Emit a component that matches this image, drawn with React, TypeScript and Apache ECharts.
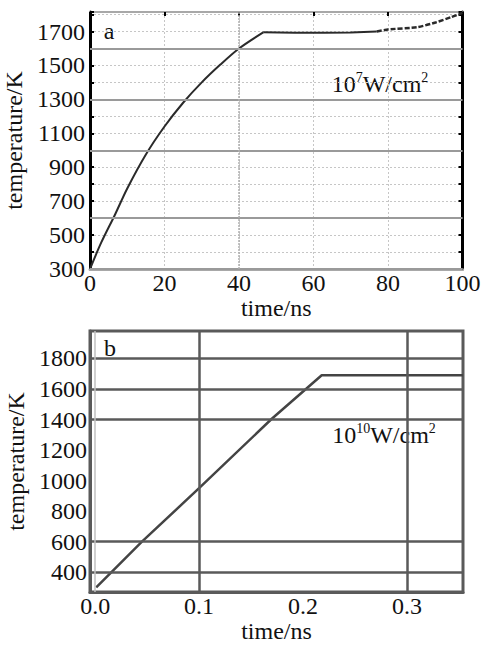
import React, { useEffect, useRef } from 'react';
import * as echarts from 'echarts';

// ---- Panel a (10^7 W/cm^2) ----
const riseTimeA = [0, 3, 6.7, 10, 15, 20, 25, 30, 35, 40, 46.5];
const riseTempA = [300, 455, 620, 775, 975, 1140, 1280, 1400, 1505, 1600, 1695];
const flatTimeA = [46.5, 55, 63, 70, 77];
const flatTempA = [1695, 1693, 1692, 1694, 1700];
const tailTimeA = [77, 80, 88, 93, 97, 100];
const tailTempA = [1700, 1712, 1726, 1755, 1785, 1810];
const xTicksA = [0, 20, 40, 60, 80, 100];
const yTicksA = [300, 500, 700, 900, 1100, 1300, 1500, 1700];
const darkGridYA = [1600, 1300, 1000, 600, 300];

// ---- Panel b (10^10 W/cm^2) ----
const timeB = [0.001, 0.045, 0.1, 0.17, 0.218, 0.354];
const tempB = [300, 600, 950, 1405, 1690, 1690];
const xTicksB = [0.0, 0.1, 0.2, 0.3];
const yTicksB = [400, 600, 800, 1000, 1200, 1400, 1600, 1800];
const gridYB = [1800, 1600, 1400, 600, 400];
const gridXB = [0.1, 0.3];

const FONT = 'Liberation Serif, DejaVu Serif, serif';
const TXT = '#111';
const FS = 24;

const pairs = (xs: number[], ys: number[]) => xs.map((x, i) => [x, ys[i]]);
const near = (arr: number[], v: number) => arr.some((a) => Math.abs(a - v) < 1e-6);

export default function App() {
  const ref = useRef<HTMLDivElement>(null);
  useEffect(() => {
    if (!ref.current) return;
    const chart = echarts.init(ref.current, undefined, { renderer: 'svg' });
    const labelStyle = { fontFamily: FONT, fontSize: FS, color: TXT };
    const nameStyle = { fontFamily: FONT, fontSize: FS, color: TXT };
    const lightSplit = { show: true, lineStyle: { color: '#c6c6c6', type: [2, 2] as any, width: 1 } };
    const option: any = {
      animation: false,
      backgroundColor: '#fff',
      textStyle: { fontFamily: FONT },
      grid: [
        { left: 90, right: 20.5, top: 12, height: 257, show: true, borderColor: '#a8a8a8', borderWidth: 2, outerBoundsMode: 'none', containLabel: false },
        { left: 90, right: 20, top: 331, height: 261, show: true, borderColor: '#5a5a5a', borderWidth: 3, outerBoundsMode: 'none', containLabel: false },
      ],
      xAxis: [
        {
          gridIndex: 0, type: 'value', min: 0, max: 100, interval: 20,
          axisLine: { show: true, onZero: false, lineStyle: { color: '#a8a8a8', width: 3 } },
          axisTick: { show: false },
          axisLabel: { ...labelStyle, margin: 2, formatter: (v: number) => (near(xTicksA, v) ? String(v) : '') },
          splitLine: lightSplit,
          name: 'time/ns', nameLocation: 'middle', nameGap: 27, nameTextStyle: nameStyle,
        },
        {
          gridIndex: 0, type: 'value', position: 'top', min: 0, max: 100, interval: 20,
          axisLine: { show: true, onZero: false, lineStyle: { color: '#a8a8a8', width: 2 } },
          axisTick: { show: true, inside: true, length: 4, lineStyle: { color: '#000', width: 2 } },
          axisLabel: { show: false },
          splitLine: { show: false },
        },
        {
          gridIndex: 1, type: 'value', min: -0.005, max: 0.354, minInterval: 0.1, maxInterval: 0.1,
          axisLine: { show: true, onZero: false, lineStyle: { color: '#5a5a5a', width: 3 } },
          axisTick: { show: false },
          axisLabel: { ...labelStyle, margin: 2, formatter: (v: number) => (near(xTicksB, v) ? v.toFixed(1) : '') },
          splitLine: { show: false },
          name: 'time/ns', nameLocation: 'middle', nameGap: 27, nameTextStyle: nameStyle,
        },
      ],
      yAxis: [
        {
          gridIndex: 0, type: 'value', min: 300, max: 1815, interval: 100,
          axisLine: { show: true, onZero: false, lineStyle: { color: '#000', width: 3 } },
          axisTick: { show: true, inside: true, length: 4, lineStyle: { color: '#000', width: 2 } },
          axisLabel: { ...labelStyle, margin: 5, formatter: (v: number) => (near(yTicksA, v) ? String(v) : '') },
          splitLine: lightSplit,
          name: 'temperature/K', nameLocation: 'middle', nameGap: 58, nameRotate: 90, nameTextStyle: nameStyle,
        },
        {
          gridIndex: 0, type: 'value', position: 'right', min: 300, max: 1815, interval: 100,
          axisLine: { show: true, onZero: false, lineStyle: { color: '#000', width: 3 } },
          axisTick: { show: true, inside: true, length: 4, lineStyle: { color: '#000', width: 2 } },
          axisLabel: { show: false },
          splitLine: { show: false },
        },
        {
          gridIndex: 1, type: 'value', min: 270, max: 1980, minInterval: 200, maxInterval: 200,
          axisLine: { show: true, onZero: false, lineStyle: { color: '#5a5a5a', width: 3 } },
          axisTick: { show: false },
          axisLabel: { ...labelStyle, margin: 3, formatter: (v: number) => (near(yTicksB, v) ? String(v) : '') },
          splitLine: { show: false },
          name: 'temperature/K', nameLocation: 'middle', nameGap: 58, nameRotate: 90, nameTextStyle: nameStyle,
        },
      ],
      series: [
        {
          type: 'line', xAxisIndex: 0, yAxisIndex: 0, data: [], z: 1, silent: true,
          markLine: {
            silent: true, symbol: 'none', label: { show: false },
            data: [
              ...darkGridYA.map((v) => ({ yAxis: v, lineStyle: { color: '#9a9a9a', width: 2, type: 'solid' } })),
              { xAxis: 40, lineStyle: { color: '#b0b0b0', width: 1.5, type: [2, 1] } },
            ],
          },
        },
        {
          type: 'line', xAxisIndex: 0, yAxisIndex: 0, z: 3, symbol: 'none', smooth: 0.3,
          data: pairs(riseTimeA, riseTempA), lineStyle: { color: '#2a2a2a', width: 2 },
        },
        {
          type: 'line', xAxisIndex: 0, yAxisIndex: 0, z: 3, symbol: 'none',
          data: pairs(flatTimeA, flatTempA), lineStyle: { color: '#2a2a2a', width: 2 },
        },
        {
          type: 'line', xAxisIndex: 0, yAxisIndex: 0, z: 3, symbol: 'none', smooth: 0.2,
          data: pairs(tailTimeA, tailTempA), lineStyle: { color: '#2a2a2a', width: 2.5, type: [5, 2] },
        },
        {
          type: 'line', xAxisIndex: 2, yAxisIndex: 2, data: [], z: 1, silent: true,
          markLine: {
            silent: true, symbol: 'none', label: { show: false },
            data: [
              ...gridYB.map((v) => ({ yAxis: v, lineStyle: { color: '#5a5a5a', width: 2.5, type: 'solid' } })),
              ...gridXB.map((v) => ({ xAxis: v, lineStyle: { color: '#5a5a5a', width: 2.5, type: 'solid' } })),
              { xAxis: 0, lineStyle: { color: '#c0c0c0', width: 1.5, type: 'solid' } },
            ],
          },
        },
        {
          type: 'line', xAxisIndex: 2, yAxisIndex: 2, z: 3, symbol: 'none',
          data: pairs(timeB, tempB), lineStyle: { color: '#444', width: 2.5 },
        },
      ],
      graphic: [
        { type: 'text', x: 109, y: 31, style: { text: 'a', fontFamily: FONT, fontSize: FS, fill: TXT, align: 'center', verticalAlign: 'middle' } },
        { type: 'text', x: 110, y: 348, style: { text: 'b', fontFamily: FONT, fontSize: FS, fill: TXT, align: 'center', verticalAlign: 'middle' } },
        {
          type: 'text', x: 380, y: 84,
          style: {
            text: '10{s|7}W/cm{s|2}', fontFamily: FONT, fontSize: FS, fill: TXT, align: 'center', verticalAlign: 'middle',
            rich: { s: { fontFamily: FONT, fontSize: 14, fill: TXT, verticalAlign: 'top', lineHeight: 27 } },
          },
        },
        {
          type: 'text', x: 384, y: 435,
          style: {
            text: '10{s|10}W/cm{s|2}', fontFamily: FONT, fontSize: FS, fill: TXT, align: 'center', verticalAlign: 'middle',
            rich: { s: { fontFamily: FONT, fontSize: 14, fill: TXT, verticalAlign: 'top', lineHeight: 27 } },
          },
        },
      ],
    };
    chart.setOption(option);
    return () => chart.dispose();
  }, []);
  return (
    <div
      ref={ref}
      style={{ position: 'fixed', left: 0, top: 0, width: 483, height: 645, background: '#fff' }}
    />
  );
}
